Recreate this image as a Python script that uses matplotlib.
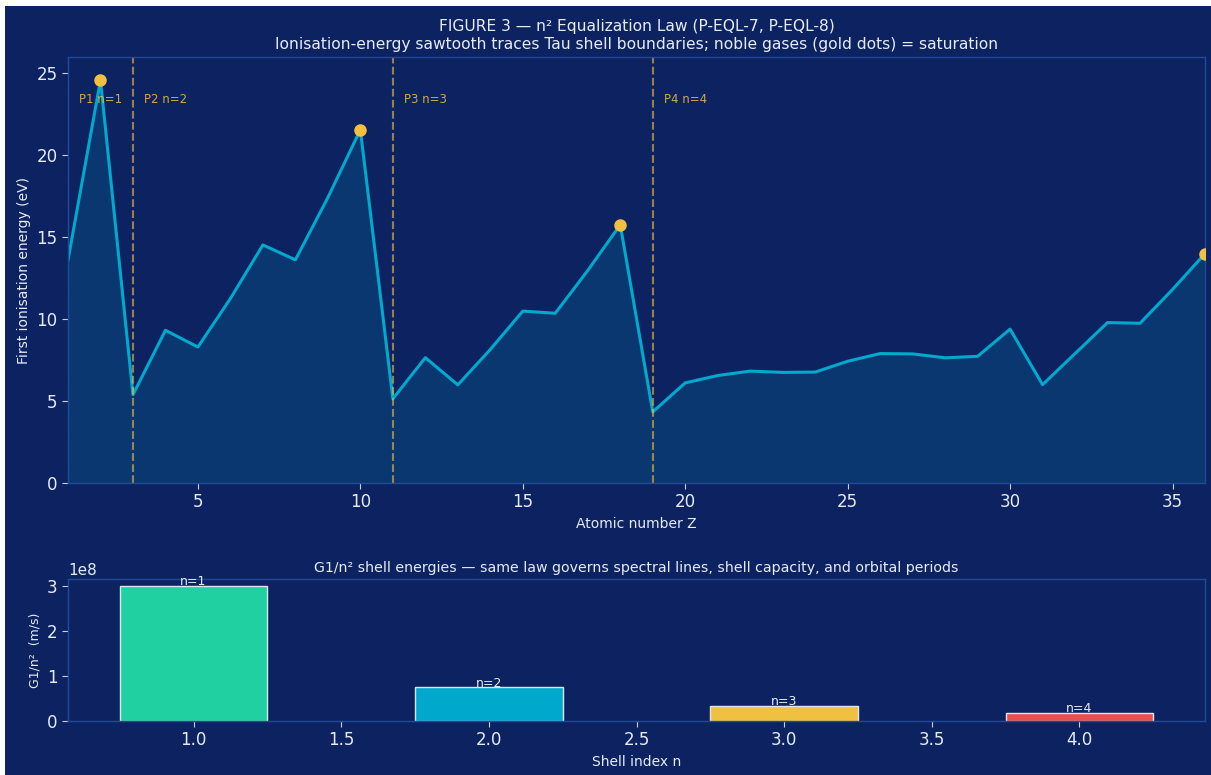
import matplotlib
matplotlib.use("Agg")
import matplotlib.pyplot as plt
from matplotlib.patches import Rectangle

# First ionisation energies (eV), Z = 1..36
atomic_numbers = list(range(1, 37))
ionisation_ev = [13.60, 24.59, 5.39, 9.32, 8.30, 11.26, 14.53, 13.62, 17.42, 21.56,
                 5.14, 7.65, 5.99, 8.15, 10.49, 10.36, 12.97, 15.76,
                 4.34, 6.11, 6.56, 6.83, 6.75, 6.77, 7.43, 7.90, 7.88, 7.64, 7.73,
                 9.39, 6.00, 7.90, 9.79, 9.75, 11.81, 14.00]
noble_gas_z = [2, 10, 18, 36]
period_start_z = [1, 3, 11, 19]
period_labels = ["P1 n=1", "P2 n=2", "P3 n=3", "P4 n=4"]

# G1/n^2 shell energies
shell_n = [1, 2, 3, 4]
shell_values = [3.0e8, 7.5e7, 3.333e7, 1.875e7]
shell_labels = ["n=1", "n=2", "n=3", "n=4"]
shell_colors = ["#20d0a0", "#00a8cc", "#f0c040", "#e85050"]

BG = "#0d2361"
SPINE = "#1f4a9a"
TEXT = "#e6ebf5"
LINE = "#00aacc"
GOLD = "#f2c040"

plt.rcParams.update({
    "font.family": ["DejaVu Sans"],
    "text.color": TEXT,
    "axes.labelcolor": TEXT,
    "xtick.color": TEXT,
    "ytick.color": TEXT,
    "axes.edgecolor": SPINE,
})

fig = plt.figure(figsize=(12.11, 7.75), dpi=100, facecolor=BG)

# thin white border strips along top and left edges
fig.patches.append(Rectangle((0, 0), 5 / 1211, 1, transform=fig.transFigure,
                             facecolor="white", edgecolor="none", zorder=10))
fig.patches.append(Rectangle((0, 1 - 6 / 775), 1, 6 / 775, transform=fig.transFigure,
                             facecolor="white", edgecolor="none", zorder=10))

ax1 = fig.add_axes([68 / 1211, 1 - 483 / 775, (1205 - 68) / 1211, (483 - 57) / 775])
ax2 = fig.add_axes([68 / 1211, 1 - 721 / 775, (1205 - 68) / 1211, (721 - 579) / 775])

for ax in (ax1, ax2):
    ax.set_facecolor(BG)
    for s in ax.spines.values():
        s.set_color(SPINE)
        s.set_linewidth(1.0)
    ax.tick_params(labelsize=12, length=4, color="#c8d0e0")

# Top panel: ionisation sawtooth
ax1.fill_between(atomic_numbers, ionisation_ev, 0, color=LINE, alpha=0.15, linewidth=0)
ax1.plot(atomic_numbers, ionisation_ev, color=LINE, linewidth=2.2)
noble_vals = [ionisation_ev[atomic_numbers.index(z)] for z in noble_gas_z]
ax1.plot(noble_gas_z, noble_vals, "o", color=GOLD, markersize=8, zorder=5)

for z, lab in zip(period_start_z, period_labels):
    ax1.axvline(z, color=GOLD, linestyle="--", linewidth=1.5, alpha=0.6)
    ax1.text(z + 0.35, 23.4, lab, color=GOLD, alpha=0.85, fontsize=8.5, va="center")

ax1.set_xlim(1, 36)
ax1.set_ylim(0, 26)
ax1.set_xlabel("Atomic number Z", fontsize=10)
ax1.set_ylabel("First ionisation energy (eV)", fontsize=10)
ax1.set_title("FIGURE 3 \u2014 n\u00b2 Equalization Law (P-EQL-7, P-EQL-8)\n"
              "Ionisation-energy sawtooth traces Tau shell boundaries; noble gases (gold dots) = saturation",
              fontsize=11.2, color=TEXT, pad=6)

# Bottom panel: shell energies
ax2.bar(shell_n, shell_values, width=0.5, color=shell_colors, edgecolor="#dde6f0", linewidth=1.0)
for n, v, lab in zip(shell_n, shell_values, shell_labels):
    ax2.annotate(lab, (n, v), xytext=(0, 3), textcoords="offset points",
                 ha="center", va="center", fontsize=9, color=TEXT)
ax2.set_xlabel("Shell index n", fontsize=10)
ax2.set_ylabel("G1/n\u00b2  (m/s)", fontsize=9)
ax2.set_title("G1/n\u00b2 shell energies \u2014 same law governs spectral lines, shell capacity, and orbital periods",
              fontsize=10.2, color=TEXT, pad=5)
ax2.yaxis.get_offset_text().set_fontsize(11)
ax2.yaxis.get_offset_text().set_color(TEXT)

fig.savefig("out.png", dpi=100, facecolor=BG)
